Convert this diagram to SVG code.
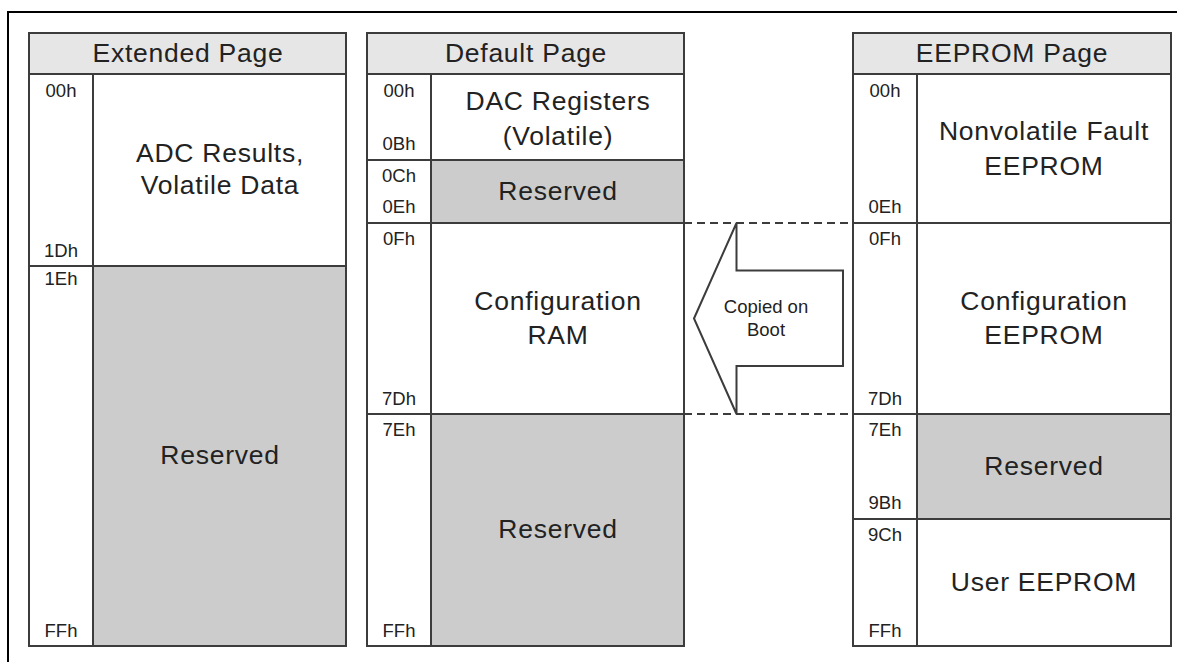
<svg xmlns="http://www.w3.org/2000/svg" width="1177" height="662" viewBox="0 0 1177 662">
  <style>
    .frame { fill: none; stroke: #000; stroke-width: 2; }
    .hdr { fill: #e6e6e6; stroke: #3c3c3c; stroke-width: 2; }
    .cell { fill: #fff; stroke: #3c3c3c; stroke-width: 2; }
    .res { fill: #cccccc; stroke: #3c3c3c; stroke-width: 2; }
    .ln { stroke: #3c3c3c; stroke-width: 2; fill: none; }
    .big { font-family: "Liberation Sans", Arial, sans-serif; font-size: 26.5px; letter-spacing: 0.75px; fill: #222; text-anchor: middle; }
    .addr { font-family: "Liberation Sans", Arial, sans-serif; font-size: 18.5px; fill: #222; text-anchor: middle; }
    .small { font-family: "Liberation Sans", Arial, sans-serif; font-size: 18.5px; fill: #222; text-anchor: middle; }
    .dash { stroke: #3c3c3c; stroke-width: 2; stroke-dasharray: 8 5; fill: none; }
    .arrow { fill: #fff; stroke: #3c3c3c; stroke-width: 2; stroke-linejoin: miter; }
  </style>
  <rect x="0" y="0" width="1177" height="662" fill="#fff"/>
  <path class="frame" d="M8,662 V12 H1177"/>

  <g id="extended-page">
    <rect class="hdr" x="29" y="33" width="317" height="41"/>
    <text class="big" x="188" y="62">Extended Page</text>
    <rect class="cell" x="29" y="74" width="317" height="192"/>
    <rect class="cell" x="29" y="266" width="317" height="380"/>
    <rect class="res" x="93" y="266" width="253" height="380"/>
    <line class="ln" x1="93" y1="74" x2="93" y2="646"/>
    <text class="big" x="220" y="162">ADC Results,</text>
    <text class="big" x="220" y="194">Volatile Data</text>
    <text class="big" x="220" y="464">Reserved</text>
    <text class="addr" x="61" y="97">00h</text>
    <text class="addr" x="61" y="257">1Dh</text>
    <text class="addr" x="61" y="285">1Eh</text>
    <text class="addr" x="61" y="637">FFh</text>
  </g>

  <g id="default-page">
    <rect class="hdr" x="367" y="33" width="317" height="41"/>
    <text class="big" x="526" y="62">Default Page</text>
    <rect class="cell" x="367" y="74" width="317" height="86"/>
    <rect class="cell" x="367" y="160" width="317" height="63"/>
    <rect class="res" x="431" y="160" width="253" height="63"/>
    <rect class="cell" x="367" y="223" width="317" height="191"/>
    <rect class="cell" x="367" y="414" width="317" height="232"/>
    <rect class="res" x="431" y="414" width="253" height="232"/>
    <line class="ln" x1="431" y1="74" x2="431" y2="646"/>
    <text class="big" x="558" y="110">DAC Registers</text>
    <text class="big" x="558" y="145">(Volatile)</text>
    <text class="big" x="558" y="200">Reserved</text>
    <text class="big" x="558" y="310">Configuration</text>
    <text class="big" x="558" y="344">RAM</text>
    <text class="big" x="558" y="538">Reserved</text>
    <text class="addr" x="399" y="97">00h</text>
    <text class="addr" x="399" y="150">0Bh</text>
    <text class="addr" x="399" y="182">0Ch</text>
    <text class="addr" x="399" y="213">0Eh</text>
    <text class="addr" x="399" y="245">0Fh</text>
    <text class="addr" x="399" y="405">7Dh</text>
    <text class="addr" x="399" y="436">7Eh</text>
    <text class="addr" x="399" y="637">FFh</text>
  </g>

  <g id="eeprom-page">
    <rect class="hdr" x="853" y="33" width="318" height="41"/>
    <text class="big" x="1012" y="62">EEPROM Page</text>
    <rect class="cell" x="853" y="74" width="318" height="149"/>
    <rect class="cell" x="853" y="223" width="318" height="191"/>
    <rect class="cell" x="853" y="414" width="318" height="105"/>
    <rect class="res" x="917" y="414" width="254" height="105"/>
    <rect class="cell" x="853" y="519" width="318" height="127"/>
    <line class="ln" x1="917" y1="74" x2="917" y2="646"/>
    <text class="big" x="1044" y="140">Nonvolatile Fault</text>
    <text class="big" x="1044" y="175">EEPROM</text>
    <text class="big" x="1044" y="310">Configuration</text>
    <text class="big" x="1044" y="344">EEPROM</text>
    <text class="big" x="1044" y="475">Reserved</text>
    <text class="big" x="1044" y="591">User EEPROM</text>
    <text class="addr" x="885" y="97">00h</text>
    <text class="addr" x="885" y="213">0Eh</text>
    <text class="addr" x="885" y="245">0Fh</text>
    <text class="addr" x="885" y="405">7Dh</text>
    <text class="addr" x="885" y="436">7Eh</text>
    <text class="addr" x="885" y="509">9Bh</text>
    <text class="addr" x="885" y="541">9Ch</text>
    <text class="addr" x="885" y="637">FFh</text>
  </g>

  <g id="connectors">
    <line class="dash" x1="684" y1="223" x2="853" y2="223"/>
    <line class="dash" x1="684" y1="414" x2="853" y2="414"/>
  </g>

  <g id="copied-on-boot">
    <polygon class="arrow" points="694,318.5 736.5,223 736.5,270.5 843,270.5 843,366 736.5,366 736.5,414"/>
    <text class="small" x="766" y="313">Copied on</text>
    <text class="small" x="766" y="336">Boot</text>
  </g>
</svg>
